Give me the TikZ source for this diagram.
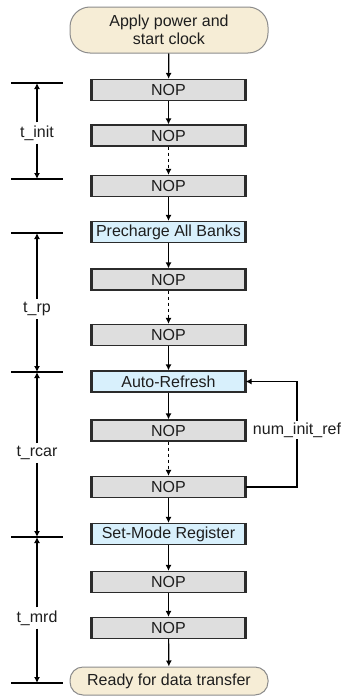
\documentclass[tikz,border=0pt]{standalone}
\usepackage{fontspec}
\setmainfont{Liberation Sans}
\usetikzlibrary{arrows.meta}
\definecolor{nopfill}{HTML}{DEDEDE}
\definecolor{cmdfill}{HTML}{D8F0FC}
\definecolor{termfill}{HTML}{F6EDD6}
\definecolor{termdraw}{HTML}{8C8C8C}
\definecolor{boxdraw}{HTML}{2B2B2B}
\definecolor{txt}{HTML}{1E1E1E}
\tikzset{
  box/.style={draw=boxdraw, line width=1.2pt, minimum width=153pt, minimum height=21pt, inner sep=0pt, text=txt},
  nop/.style={box, fill=nopfill},
  cmd/.style={box, fill=cmdfill},
  term/.style={draw=termdraw, line width=1pt, fill=termfill, minimum width=198pt, align=center, inner sep=0pt, text=txt},
  arr/.style={draw=black, line width=1.2pt, -{Latex[length=6pt,width=6pt]}},
  darr/.style={arr, dash pattern=on 3pt off 3pt},
  dim/.style={draw=black, line width=1.2pt},
  lab/.style={fill=white, inner sep=3pt, text=txt},
}
\begin{document}
\begin{tikzpicture}[x=1pt, y=-1pt, font=\fontsize{16}{18}\selectfont]
\useasboundingbox (0,0) rectangle (345,696);
% terminals
\node[term, minimum height=46pt, rounded corners=20pt] (start) at (169,30) {Apply power and\\start clock};
\node[term, minimum height=28pt, rounded corners=13pt] (ready) at (169,681) {Ready for data transfer};
% boxes
\node[nop] (n1) at (168.5,90) {NOP};
\node[nop] (n2) at (168.5,135.5) {NOP};
\node[nop] (n3) at (168.5,186) {NOP};
\node[cmd] (pre) at (168.5,232) {Precharge All Banks};
\node[nop] (n4) at (168.5,279.5) {NOP};
\node[nop] (n5) at (168.5,335) {NOP};
\node[cmd] (ar) at (168.5,381.5) {Auto-Refresh};
\node[nop] (n6) at (168.5,430.5) {NOP};
\node[nop] (n7) at (168.5,487) {NOP};
\node[cmd] (sm) at (168.5,534) {Set-Mode Register};
\node[nop] (n8) at (168.5,582) {NOP};
\node[nop] (n9) at (168.5,628) {NOP};
\foreach \n in {n1,n2,n3,pre,n4,n5,ar,n6,n7,sm,n8,n9}
  \draw[boxdraw, line width=2.6pt] (\n.north west) -- (\n.south west) (\n.north east) -- (\n.south east);
% flow arrows
\draw[arr] (start) -- (n1);
\draw[arr] (n1) -- (n2);
\draw[darr] (n2) -- (n3);
\draw[arr] (n3) -- (pre);
\draw[arr] (pre) -- (n4);
\draw[darr] (n4) -- (n5);
\draw[arr] (n5) -- (ar);
\draw[arr] (ar) -- (n6);
\draw[darr] (n6) -- (n7);
\draw[arr] (n7) -- (sm);
\draw[arr] (sm) -- (n8);
\draw[arr] (n8) -- (n9);
\draw[arr] (n9) -- (ready);
% feedback loop
\coordinate (fb) at (297,430);
\draw[arr] (n7.east) -- (n7.east -| fb) -- (ar.east -| fb) -- (ar.east);
\node[lab, inner sep=2pt] (numref) at (fb) {num\_init\_ref};
% dimension ticks
\coordinate (d1) at (37,83);
\coordinate (d2) at (37,179);
\coordinate (d3) at (37,233);
\coordinate (d4) at (37,372);
\coordinate (d5) at (37,537);
\coordinate (d6) at (37,683);
\foreach \d in {d1,d2,d3,d4,d5,d6}
  \draw[dim] ([xshift=-26pt]\d) -- ([xshift=26pt]\d);
\node[lab] (tinit) at (37,133) {t\_init};
\node[lab] (trp) at (37,309) {t\_rp};
\node[lab] (trcar) at (37,453) {t\_rcar};
\node[lab] (tmrd) at (37,618) {t\_mrd};
\draw[arr] (tinit) -- (d1);
\draw[arr] (tinit) -- (d2);
\draw[arr] (trp) -- (d3);
\draw[arr] (trp) -- (d4);
\draw[arr] (trcar) -- (d4);
\draw[arr] (trcar) -- (d5);
\draw[arr] (tmrd) -- (d5);
\draw[arr] (tmrd) -- (d6);
\end{tikzpicture}
\end{document}
